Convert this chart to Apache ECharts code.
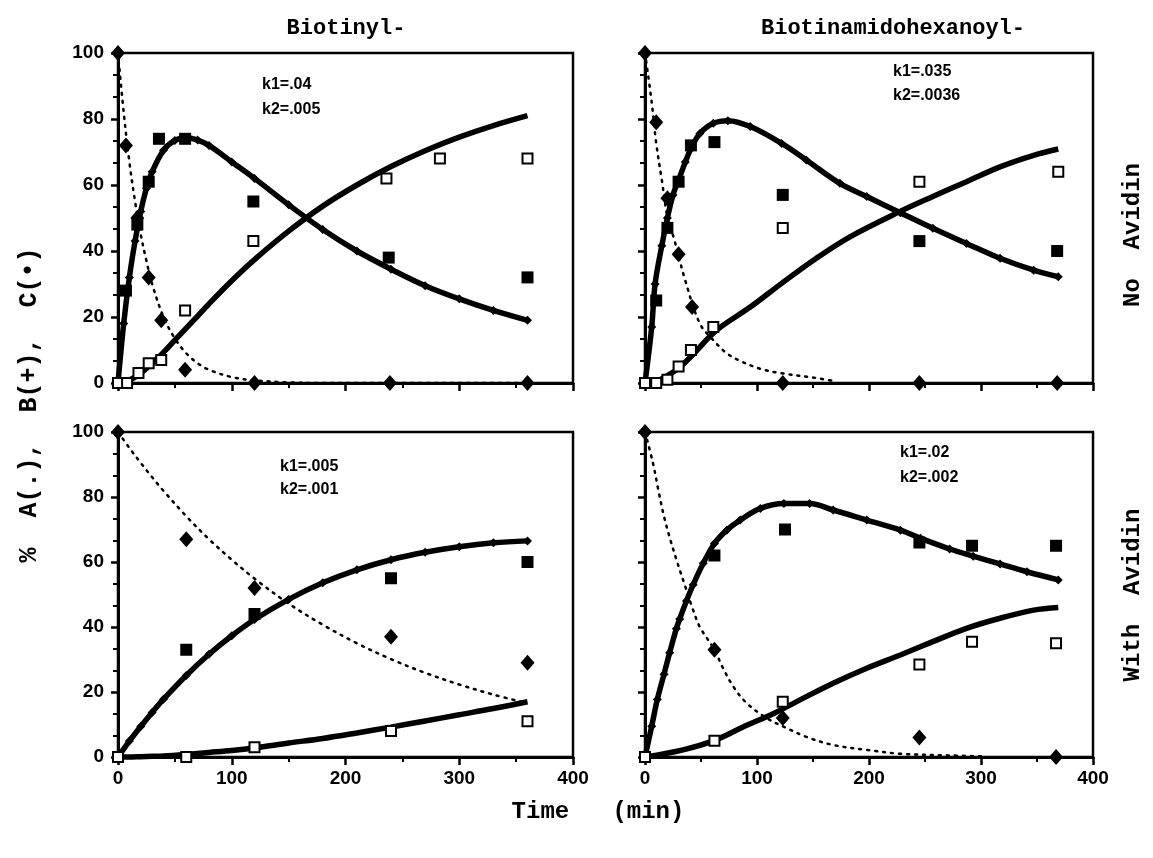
<!DOCTYPE html>
<html lang="en">
<head>
<meta charset="UTF-8">
<title>Biotinyl kinetics</title>
<style>
  html, body { margin: 0; padding: 0; background: #fff; }
  #main { width: 1153px; height: 858px; }
</style>
</head>
<body>
<div id="main"></div>
<script src="https://cdn.jsdelivr.net/npm/echarts@6/dist/echarts.min.js"></script>
<script type="text/javascript">
// ---- Biotinyl-, No Avidin (top left) ----
var tlDataAT = [0, 7, 17, 27, 38, 59, 120, 239, 360];
var tlDataA  = [100, 72, 50, 32, 19, 4, 0, 0, 0];
var tlDataBT = [0, 7, 17, 27, 36, 59, 119, 238, 360];
var tlDataB  = [0, 28, 48, 61, 74, 74, 55, 38, 32];
var tlDataCT = [0, 8, 18, 27, 38, 59, 119, 236, 283, 360];
var tlDataC  = [0, 0, 3, 6, 7, 22, 43, 62, 68, 68];
var tlCurveT = [0, 5, 10, 15, 20, 25, 30, 40, 50, 60, 70, 80, 100, 120, 150, 180, 210, 240, 270, 300, 330, 360];
var tlCurveA = [100, 82, 67, 55, 45, 37, 30, 20, 13.5, 9, 6, 4, 1.8, 0.8, 0.2, 0, 0, 0, 0, 0, 0, 0];
var tlCurveB = [0, 18, 32, 43, 52, 59, 64, 70.5, 73.5, 74.3, 73.6, 72, 67, 62, 54, 46.5, 40, 34.5, 29.5, 25.5, 22, 19];
var tlCurveC = [0, 0.2, 0.9, 1.8, 3, 4.4, 6, 9.3, 13, 16.6, 20.3, 24, 31, 37.4, 46, 53.6, 60, 65.6, 70.4, 74.5, 78, 81];

// ---- Biotinamidohexanoyl-, No Avidin (top right) ----
var trDataAT = [0, 10, 20, 30, 42, 123, 245, 368];
var trDataA  = [100, 79, 56, 39, 23, 0, 0, 0];
var trDataBT = [0, 10, 20, 30, 41, 62, 123, 245, 368];
var trDataB  = [0, 25, 47, 61, 72, 73, 57, 43, 40];
var trDataCT = [0, 10, 20, 30, 41, 61, 123, 245, 369];
var trDataC  = [0, 0, 1, 5, 10, 17, 47, 61, 64];
var trCurveAT = [0, 6, 10, 15, 20, 26, 36, 49, 61, 73, 85, 103, 121, 153, 170];
var trCurveA  = [100, 85, 72.7, 61.5, 50.4, 43.6, 31, 18, 13, 9, 6.7, 4.3, 3, 1.5, 0.5];
var trCurveBT = [0, 6, 9, 15, 20, 25, 30, 36, 41, 49, 61, 74, 94, 122, 144, 174, 198, 228, 257, 287, 317, 347, 369];
var trCurveB  = [0, 17, 30, 41.6, 50, 57, 61.5, 67, 71, 75.6, 78.7, 79.5, 77.7, 72.6, 67.6, 60.5, 56.5, 51.6, 46.9, 42.3, 37.8, 34.2, 32.2];
var trCurveCT = [0, 10, 19, 30, 41, 64, 94, 122, 153, 183, 228, 257, 287, 317, 347, 369];
var trCurveC  = [0, 0.5, 2, 4.5, 8, 16, 23, 30.2, 37.8, 44.3, 52, 56.5, 61, 65.5, 69, 70.9];

// ---- Biotinyl-, With Avidin (bottom left) ----
var blDataT = [0, 60, 120, 240, 360];
var blDataA = [100, 67, 52, 37, 29];
var blDataB = [0, 33, 44, 55, 60];
var blDataC = [0, 0, 3, 8, 11];
var blCurveT = [0, 10, 20, 30, 40, 60, 80, 100, 120, 150, 180, 210, 240, 270, 300, 330, 360];
var blCurveA = [100, 95.1, 90.5, 86.1, 81.9, 74.1, 67, 60.7, 54.9, 47.2, 40.7, 35, 30.1, 25.9, 22.3, 19.2, 16.5];
var blCurveB = [0, 4.9, 9.4, 13.7, 17.8, 25.1, 31.6, 37.3, 42.3, 48.5, 53.6, 57.6, 60.7, 63, 64.7, 65.9, 66.5];
var blCurveC = [0, 0, 0.1, 0.2, 0.3, 0.8, 1.4, 2, 2.8, 4.3, 5.7, 7.4, 9.2, 11.1, 13, 14.9, 17];

// ---- Biotinamidohexanoyl-, With Avidin (bottom right) ----
var brDataAT = [0, 62, 123, 245, 367];
var brDataA  = [100, 33, 12, 6, 0];
var brDataBT = [62, 125, 245, 292, 367];
var brDataB  = [62, 70, 66, 65, 65];
var brDataCT = [0, 62, 123, 245, 292, 367];
var brDataC  = [0, 5, 17, 28.5, 35.5, 35];
var brCurveAT = [0, 7, 12, 17, 22, 28, 36, 43, 49, 62, 69, 79, 91, 109, 124, 144, 168, 198, 228, 270, 300];
var brCurveA  = [100, 90.6, 82, 74, 67.6, 60.8, 52.4, 45.2, 40, 33, 27.8, 21.6, 16.5, 11.9, 9.3, 6.2, 3.7, 2.2, 1, 0.5, 0.2];
var brCurveBT = [0, 6, 11, 17, 22, 28, 31, 37, 43, 52, 62, 73, 85, 103, 124, 147, 168, 198, 228, 246, 272, 293, 317, 341, 369];
var brCurveB  = [0, 9.5, 17.7, 25.5, 32.1, 39.5, 42.5, 48, 53, 59.6, 65.7, 69.8, 72.9, 76.5, 78, 78, 76, 72.9, 69.8, 67.3, 64, 61.8, 59.4, 57, 54.5];
var brCurveCT = [0, 34, 62, 88, 115, 138, 168, 198, 228, 257, 287, 317, 347, 369];
var brCurveC  = [0, 2.2, 5.1, 9.3, 13.4, 17.5, 22.7, 27.3, 31.4, 35.5, 39.6, 42.7, 45.2, 46];

var xTicks = [0, 100, 200, 300, 400];
var yTicks = [0, 20, 40, 60, 80, 100];

function pts(t, v) {
    return t.map(function (x, i) { return [x, v[i]]; });
}

var grids = [
    {left: 118, top: 53, width: 455, height: 330},
    {left: 645, top: 53, width: 448, height: 330},
    {left: 118, top: 432, width: 455, height: 325},
    {left: 645, top: 432, width: 448, height: 325}
];

var xAxes = [], yAxes = [];
grids.forEach(function (g, i) {
    g.show = true;
    g.borderColor = '#000';
    g.borderWidth = 2.5;
    xAxes.push({
        gridIndex: i, type: 'value', min: xTicks[0], max: xTicks[xTicks.length - 1], interval: 100,
        axisLine: {onZero: false, lineStyle: {color: '#000', width: 3}},
        axisTick: {length: 8, lineStyle: {color: '#000', width: 2.5}},
        minorTick: {show: true, splitNumber: 2, length: 5, lineStyle: {color: '#000', width: 2}},
        axisLabel: {show: i >= 2, color: '#000', fontSize: 19, fontWeight: 'bold',
            fontFamily: 'Liberation Sans', margin: 12},
        splitLine: {show: false}
    });
    yAxes.push({
        gridIndex: i, type: 'value', min: yTicks[0], max: yTicks[yTicks.length - 1], interval: 20,
        axisLine: {onZero: false, lineStyle: {color: '#000', width: 3}},
        axisTick: {length: 7, lineStyle: {color: '#000', width: 2.5}},
        minorTick: {show: true, splitNumber: 3, length: 5, lineStyle: {color: '#000', width: 2}},
        axisLabel: {show: i % 2 === 0, color: '#000', fontSize: 19, fontWeight: 'bold',
            fontFamily: 'Liberation Sans', margin: 14},
        splitLine: {show: false}
    });
});

var series = [];
function curve(gi, data, kind) {
    var s = {
        type: 'line', xAxisIndex: gi, yAxisIndex: gi, data: data, smooth: 0.35,
        showSymbol: false, silent: true, clip: false, z: 2,
        lineStyle: {color: '#000', width: 5.5}
    };
    if (kind === 'A') {
        s.lineStyle = {color: '#000', width: 2.5, type: [2, 6], cap: 'round'};
    }
    if (kind === 'B') {
        s.showSymbol = true;
        s.symbol = 'diamond';
        s.symbolSize = 9;
        s.itemStyle = {color: '#000', opacity: 1};
    }
    series.push(s);
}
function marks(gi, data, kind) {
    var s = {type: 'scatter', xAxisIndex: gi, yAxisIndex: gi, data: data, clip: false, z: 5, silent: true};
    if (kind === 'A') { s.symbol = 'diamond'; s.symbolSize = [14, 16]; s.itemStyle = {color: '#000', opacity: 1}; }
    if (kind === 'B') { s.symbol = 'rect'; s.symbolSize = 12; s.itemStyle = {color: '#000', opacity: 1}; }
    if (kind === 'C') { s.symbol = 'emptyRect'; s.symbolSize = 10;
        s.itemStyle = {color: '#000', borderColor: '#000', borderWidth: 3, opacity: 1}; }
    series.push(s);
}

curve(0, pts(tlCurveT, tlCurveA), 'A');
curve(0, pts(tlCurveT, tlCurveB), 'B');
curve(0, pts(tlCurveT, tlCurveC), 'C');
marks(0, pts(tlDataAT, tlDataA), 'A');
marks(0, pts(tlDataBT, tlDataB), 'B');
marks(0, pts(tlDataCT, tlDataC), 'C');

curve(1, pts(trCurveAT, trCurveA), 'A');
curve(1, pts(trCurveBT, trCurveB), 'B');
curve(1, pts(trCurveCT, trCurveC), 'C');
marks(1, pts(trDataAT, trDataA), 'A');
marks(1, pts(trDataBT, trDataB), 'B');
marks(1, pts(trDataCT, trDataC), 'C');

curve(2, pts(blCurveT, blCurveA), 'A');
curve(2, pts(blCurveT, blCurveB), 'B');
curve(2, pts(blCurveT, blCurveC), 'C');
marks(2, pts(blDataT, blDataA), 'A');
marks(2, pts(blDataT, blDataB), 'B');
marks(2, pts(blDataT, blDataC), 'C');

curve(3, pts(brCurveAT, brCurveA), 'A');
curve(3, pts(brCurveBT, brCurveB), 'B');
curve(3, pts(brCurveCT, brCurveC), 'C');
marks(3, pts(brDataAT, brDataA), 'A');
marks(3, pts(brDataBT, brDataB), 'B');
marks(3, pts(brDataCT, brDataC), 'C');

var mono = '"Liberation Mono", "DejaVu Sans Mono", monospace';
function label(text, x, y, size, rot) {
    return {
        type: 'text', x: x, y: y, rotation: rot || 0, silent: true,
        style: {text: text, x: 0, y: 0, fill: '#000', align: 'center', verticalAlign: 'middle',
            font: 'bold ' + size + 'px ' + mono}
    };
}
function kText(text, x, y) {
    return {
        type: 'text', x: x, y: y, silent: true,
        style: {text: text, fill: '#000', align: 'left', verticalAlign: 'middle',
            font: 'bold 16px "Liberation Sans", Arial, sans-serif'}
    };
}

var option = {
    backgroundColor: '#fff',
    animation: false,
    grid: grids,
    xAxis: xAxes,
    yAxis: yAxes,
    series: series,
    graphic: [
        label('Biotinyl-', 346, 28, 22),
        label('Biotinamidohexanoyl-', 893, 28, 22),
        label('Time   (min)', 598, 812, 24),
        label('%  A(.),  B(+),  C(\u2022)', 30, 405, 25, Math.PI / 2),
        label('No  Avidin', 1133, 235, 24, Math.PI / 2),
        label('With  Avidin', 1133, 595, 24, Math.PI / 2),
        kText('k1=.04', 262, 85), kText('k2=.005', 262, 110),
        kText('k1=.035', 893, 72), kText('k2=.0036', 893, 96),
        kText('k1=.005', 280, 467), kText('k2=.001', 280, 490),
        kText('k1=.02', 900, 453), kText('k2=.002', 900, 478)
    ]
};

var myChart = echarts.init(document.getElementById('main'));
myChart.setOption(option);
</script>
</body>
</html>
